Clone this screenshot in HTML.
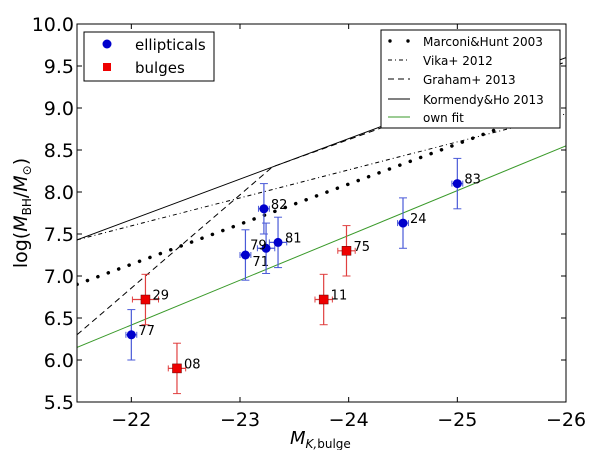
<!DOCTYPE html>
<html><head><meta charset="utf-8"><style>
body{margin:0;background:#fff}
svg{font-family:"DejaVu Sans","Liberation Sans",sans-serif}
</style></head><body>
<svg id="c" width="600" height="450"></svg>
<script>
const ellNames=["77","71","82","79","81","24","83"];
const ellX=[-22.0,-23.05,-23.22,-23.24,-23.35,-24.5,-25.0];
const ellY=[6.3,7.25,7.8,7.33,7.4,7.63,8.1];
const ellYerr=[0.3,0.3,0.3,0.3,0.3,0.3,0.3];
const ellXerr=[0.05,0.05,0.05,0.08,0.08,0.05,0.05];
const bulNames=["29","08","11","75"];
const bulX=[-22.13,-22.42,-23.77,-23.98];
const bulY=[6.72,5.9,6.72,7.3];
const bulYerr=[0.3,0.3,0.3,0.3];
const bulXerr=[0.12,0.08,0.08,0.08];
const xTicks=[-22,-23,-24,-25,-26];
const yTicks=[5.5,6.0,6.5,7.0,7.5,8.0,8.5,9.0,9.5,10.0];
const marconiX=[-21.5,-26];const marconiY=[6.9,9.05];
const vikaX=[-21.5,-26];const vikaY=[7.43,8.93];
const grahamX=[-21.5,-23.3,-26];const grahamY=[6.3,8.3,9.55];
const kormX=[-21.5,-26];const kormY=[7.43,9.6];
const fitX=[-21.5,-26];const fitY=[6.15,8.55];

// label placement offsets (style, not data)
const labelOff={"71":[7,11],"79":[-16,1]};

const L=77,R=566,T=24,B=402;
const sx=v=>L+(v-(-21.5))/(-4.5)*(R-L);
const sy=v=>B-(v-5.5)/4.5*(B-T);
const NS="http://www.w3.org/2000/svg";
const svg=document.getElementById('c');
function el(t,a,p){const e=document.createElementNS(NS,t);for(const k in a)e.setAttribute(k,a[k]);(p||svg).appendChild(e);return e;}
const clip=el('clipPath',{id:'cp'});el('rect',{x:L,y:T,width:R-L,height:B-T},clip);
const g=el('g',{'clip-path':'url(#cp)'});
function line(xs,ys,style,name){
  const pts=xs.map((x,i)=>sx(x)+','+sy(ys[i])).join(' ');
  const p=el('polyline',Object.assign({points:pts,fill:'none'},style),g);
  
  
}
line(kormX,kormY,{stroke:'#000','stroke-width':1},'kormendy-ho-line');
line(grahamX,grahamY,{stroke:'#000','stroke-width':1,'stroke-dasharray':'6,4'},'graham-line');
line(vikaX,vikaY,{stroke:'#000','stroke-width':1,'stroke-dasharray':'4,3,1,3'},'vika-line');
line(marconiX,marconiY,{stroke:'#000','stroke-width':3.5,'stroke-dasharray':'0.1,11','stroke-linecap':'round'},'marconi-hunt-line');
line(fitX,fitY,{stroke:'#3a9a2a','stroke-width':1},'own-fit-line');

function pt(x,y,xe,ye,name,col,ecol,sq){
  const gg=el('g',{});
  
  
  const X=sx(x),Y=sy(y),y1=sy(y-ye),y2=sy(y+ye),x1=sx(x-xe),x2=sx(x+xe);
  el('line',{x1:X,x2:X,y1:y1,y2:y2,stroke:ecol,'stroke-width':1.2},gg);
  el('line',{x1:X-4,x2:X+4,y1:y1,y2:y1,stroke:ecol},gg);
  el('line',{x1:X-4,x2:X+4,y1:y2,y2:y2,stroke:ecol},gg);
  el('line',{x1:x1,x2:x2,y1:Y,y2:Y,stroke:ecol,'stroke-width':1.2},gg);
  el('line',{x1:x1,x2:x1,y1:Y-3,y2:Y+3,stroke:ecol},gg);
  el('line',{x1:x2,x2:x2,y1:Y-3,y2:Y+3,stroke:ecol},gg);
  if(sq) el('rect',{x:X-4.5,y:Y-4.5,width:9,height:9,fill:col,stroke:'#600','stroke-width':0.5},gg);
  else el('circle',{cx:X,cy:Y,r:4.5,fill:col},gg);
  const o=labelOff[name]||[7,0];
  const t=el('text',{x:X+o[0],y:Y+o[1],'font-size':13},gg);t.textContent=name;
}
ellX.forEach((x,i)=>pt(x,ellY[i],ellXerr[i],ellYerr[i],ellNames[i],'#0000cc','#4a5ad8',false));
bulX.forEach((x,i)=>pt(x,bulY[i],bulXerr[i],bulYerr[i],bulNames[i],'#ee0000','#e04040',true));

el('rect',{x:L,y:T,width:R-L,height:B-T,fill:'none',stroke:'#000'});
xTicks.forEach(v=>{const X=sx(v);
  el('line',{x1:X,x2:X,y1:B,y2:B-5,stroke:'#000'});el('line',{x1:X,x2:X,y1:T,y2:T+5,stroke:'#000'});
  const t=el('text',{x:X,y:B+24,'font-size':19,'text-anchor':'middle'});t.textContent='\u2212'+Math.abs(v);
  });
yTicks.forEach(v=>{const Y=sy(v);
  el('line',{x1:L,x2:L+5,y1:Y,y2:Y,stroke:'#000'});el('line',{x1:R,x2:R-5,y1:Y,y2:Y,stroke:'#000'});
  const t=el('text',{x:L-3,y:Y+7,'font-size':19,'text-anchor':'end'});t.textContent=v.toFixed(1);
  });
</script>
<svg width="600" height="450" style="position:absolute;left:0;top:0" font-family="Liberation Serif,serif">
<text x="290" y="444" font-size="18" font-style="italic">M<tspan font-size="12" dy="4">K,</tspan><tspan font-size="12" font-style="normal">bulge</tspan></text>
<text transform="translate(27,213) rotate(-90)" text-anchor="middle" font-size="19">log(<tspan font-style="italic">M</tspan><tspan font-size="12" dy="4">BH</tspan><tspan dy="-4">/</tspan><tspan font-style="italic">M</tspan><tspan font-size="12" dy="4">⊙</tspan><tspan dy="-4">)</tspan></text>
<g font-family="DejaVu Sans,sans-serif" font-size="15">
<rect x="84" y="32" width="130" height="49" fill="#fff" stroke="#000"/>
<circle cx="107" cy="44" r="4.5" fill="#0000cc"/><text x="135" y="50">ellipticals</text>
<rect x="103" y="63" width="8" height="8" fill="#e00"/><text x="135" y="73">bulges</text>
</g>
<g font-family="DejaVu Sans,sans-serif" font-size="12">
<rect x="381" y="30" width="179" height="98" fill="#fff" stroke="#000"/>
<circle cx="390" cy="41" r="1.7"/><circle cx="408" cy="41" r="1.7"/><text x="423" y="46">Marconi&amp;Hunt 2003</text>
<line x1="388" x2="410" y1="60" y2="60" stroke="#000" stroke-dasharray="4,3,1,3"/><text x="423" y="65">Vika+ 2012</text>
<line x1="388" x2="410" y1="79" y2="79" stroke="#000" stroke-dasharray="6,4"/><text x="423" y="84">Graham+ 2013</text>
<line x1="388" x2="410" y1="99" y2="99" stroke="#000"/><text x="423" y="104">Kormendy&amp;Ho 2013</text>
<line x1="388" x2="410" y1="117" y2="117" stroke="#3a9a2a"/><text x="423" y="122">own fit</text>
</g>
</svg>
</body></html>
